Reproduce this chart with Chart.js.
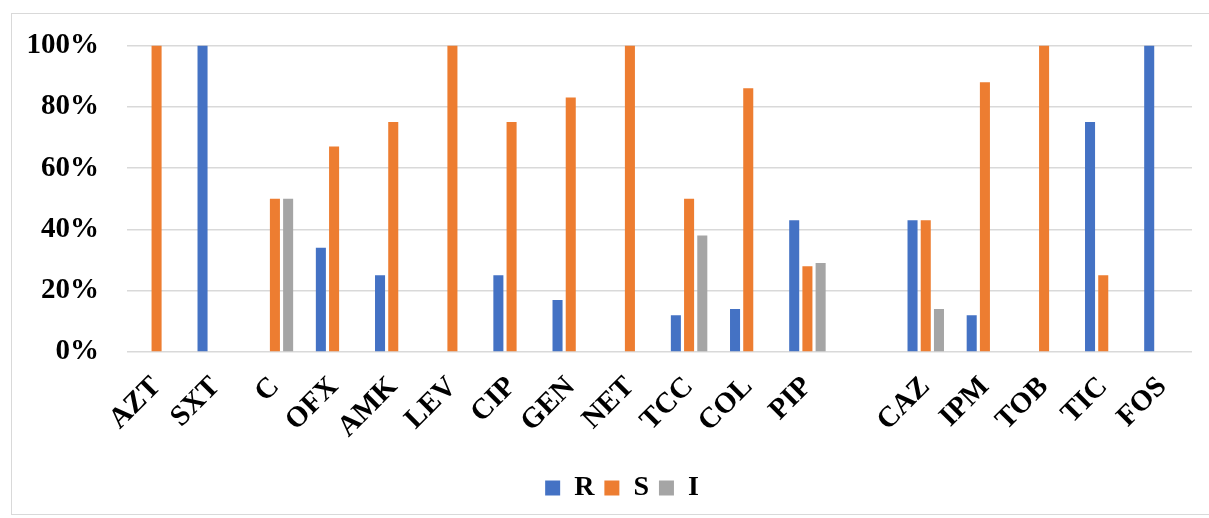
<!DOCTYPE html>
<html>
<head>
<meta charset="utf-8">
<script src="https://cdn.jsdelivr.net/npm/chart.js@4/dist/chart.umd.min.js"></script>
<style>
  html, body { margin: 0; padding: 0; background: #ffffff; }
  #wrap { position: relative; width: 1209px; height: 518px; overflow: hidden; }
  #frame { position: absolute; left: 11px; top: 13px; width: 1210px; height: 502px;
           border: 1.5px solid #d9d9d9; box-sizing: border-box; }
  #c { position: absolute; left: 0; top: 0; }
</style>
</head>
<body>
<div id="wrap">
  <div id="frame"></div>
  <canvas id="c" width="1209" height="518"></canvas>
</div>
<script>
// Antibiotic susceptibility profile (%), one slot left empty between PIP and CAZ
const categories = ['AZT','SXT','C','OFX','AMK','LEV','CIP','GEN','NET','TCC','COL','PIP','','CAZ','IPM','TOB','TIC','FOS'];
const resistant    = [0, 100, 0, 34, 25, 0, 25, 17, 0, 12, 14, 43, null, 43, 12, 0, 75, 100];
const susceptible  = [100, 0, 50, 67, 75, 100, 75, 83, 100, 50, 86, 28, null, 43, 88, 100, 25, 0];
const intermediate = [0, 0, 50, 0, 0, 0, 0, 0, 0, 38, 0, 29, null, 14, 0, 0, 0, 0];
const yTicks = [0, 20, 40, 60, 80, 100];

const serif = "'Liberation Serif', 'Times New Roman', serif";

// Nudge the legend so it sits a little right of the canvas centre
const legendShift = {
  id: 'legendShift',
  afterLayout(chart) {
    const lg = chart.legend;
    if (lg) { lg.left += 26; lg.right += 26; }
  }
};

new Chart(document.getElementById('c'), {
  type: 'bar',
  data: {
    labels: categories,
    datasets: [
      { label: 'R', data: resistant,    backgroundColor: '#4472C4' },
      { label: 'S', data: susceptible,  backgroundColor: '#ED7D31' },
      { label: 'I', data: intermediate, backgroundColor: '#A5A5A5' }
    ]
  },
  plugins: [legendShift],
  options: {
    responsive: false,
    animation: false,
    datasets: { bar: { categoryPercentage: 0.67, barPercentage: 0.76 } },
    layout: { padding: { left: 0, right: 17, top: 25, bottom: 6 } },
    plugins: {
      tooltip: { enabled: false },
      legend: {
        position: 'bottom',
        labels: {
          boxWidth: 15, boxHeight: 15, padding: 10,
          color: '#000000',
          font: { family: serif, size: 28, weight: 'bold' }
        }
      }
    },
    scales: {
      x: {
        grid: { display: false, drawTicks: false },
        border: { display: false },
        ticks: {
          color: '#000000',
          minRotation: 45, maxRotation: 45,
          autoSkip: false, padding: 18,
          font: { family: serif, size: 29, weight: 'bold' }
        },
        afterFit: (s) => { s.height = 112; }
      },
      y: {
        min: 0, max: 100,
        afterBuildTicks: (s) => { s.ticks = yTicks.map(v => ({ value: v })); },
        grid: { color: '#d9d9d9', lineWidth: 1.5, drawTicks: false },
        border: { display: false },
        ticks: {
          color: '#000000', padding: 28,
          font: { family: serif, size: 29, weight: 'bold' },
          callback: (v) => v + '%'
        },
        afterFit: (s) => { s.width = 127; }
      }
    }
  }
});
</script>
</body>
</html>
